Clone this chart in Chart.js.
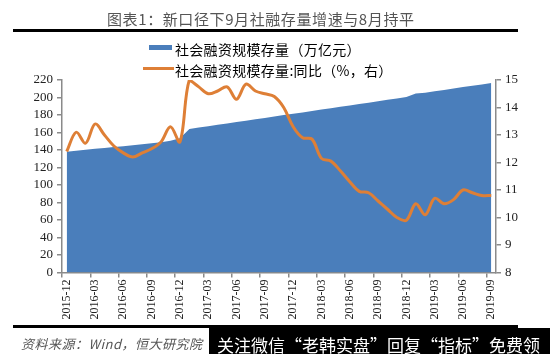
<!DOCTYPE html>
<html><head><meta charset="utf-8">
<script src="https://cdn.jsdelivr.net/npm/chart.js@4/dist/chart.umd.min.js"></script>
<style>
html,body{margin:0;padding:0;background:#fff;}
#wrap{position:relative;width:550px;height:354px;overflow:hidden;background:#fff;}
canvas{position:absolute;left:0;top:0;}
.t{position:absolute;white-space:nowrap;line-height:1;}
.rule{position:absolute;background:#000;}
</style></head><body>
<div id="wrap">
<canvas id="c" width="550" height="354"></canvas>
<div class="t" id="title" style="left:107px;top:8px;font:15px 'Noto Sans CJK SC';letter-spacing:0.6px;color:#555;">图表1：新口径下9月社融存量增速与8月持平</div>
<div class="rule" style="left:13px;top:29px;width:505px;height:3px;"></div>
<div id="legend"></div>
<div class="rule" style="left:13px;top:325px;width:505px;height:3px;"></div>
<div class="t" style="left:21px;top:334px;font:italic 13px 'Noto Sans CJK SC';letter-spacing:0.5px;color:#555;">资料来源：Wind，恒大研究院</div>
<div style="position:absolute;left:209px;top:328px;width:341px;height:26px;background:#000;"></div>
<div class="t" style="left:217px;top:332px;font:17px 'Noto Sans CJK SC';color:#fff;">关注微信“老韩实盘”回复“指标”免费领</div>
</div>
<script>
const categories = ["2015-12","2016-01","2016-02","2016-03","2016-04","2016-05","2016-06","2016-07","2016-08","2016-09","2016-10","2016-11","2016-12",
"2017-01","2017-02","2017-03","2017-04","2017-05","2017-06","2017-07","2017-08","2017-09","2017-10","2017-11","2017-12",
"2018-01","2018-02","2018-03","2018-04","2018-05","2018-06","2018-07","2018-08","2018-09","2018-10","2018-11","2018-12",
"2019-01","2019-02","2019-03","2019-04","2019-05","2019-06","2019-07","2019-08","2019-09"];
const stockValues = [138.0,139.2,140.2,141.3,142.4,143.4,144.4,145.5,146.6,147.6,148.8,150.5,153.5,
164.0,165.6,167.2,168.8,170.3,171.9,173.5,175.1,176.7,178.3,179.9,181.5,
183.0,184.6,186.2,187.8,189.4,191.0,192.6,194.1,195.7,197.3,198.9,200.5,
204.5,205.5,207.2,208.6,210.2,212.0,213.5,215.0,216.5];
const yoyValues = [12.4,13.1,12.7,13.4,13.0,12.6,12.35,12.2,12.35,12.5,12.75,13.3,12.75,
15.0,14.75,14.5,14.6,14.75,14.3,14.85,14.6,14.5,14.4,14.0,13.3,
12.9,12.85,12.15,12.05,11.7,11.3,10.95,10.9,10.6,10.3,10.0,9.9,
10.5,10.1,10.7,10.5,10.65,11.0,10.9,10.8,10.8];
const leftTicks = [0,20,40,60,80,100,120,140,160,180,200,220];
const rightTicks = [8,9,10,11,12,13,14,15];
const seriesNames = ["社会融资规模存量（万亿元）","社会融资规模存量:同比（%，右）"];

const BLUE = '#4A7EBB', ORANGE = '#DE7F36', AXIS = '#8a8a8a';

// HTML legend
const lg = document.getElementById('legend');
const legendItems = [
  {name: seriesNames[0], color: BLUE, cy: 47, h: 5, x: 149, w: 23},
  {name: seriesNames[1], color: ORANGE, cy: 68, h: 3, x: 143, w: 31}
];
legendItems.forEach(it => {
  const sw = document.createElement('div');
  sw.style.cssText = `position:absolute;left:${it.x}px;top:${it.cy - it.h/2}px;width:${it.w}px;height:${it.h}px;background:${it.color};`;
  lg.appendChild(sw);
  const tx = document.createElement('div');
  tx.className = 't';
  tx.style.cssText = `left:175px;top:${it.cy-8}px;font:14px 'Noto Sans CJK SC';letter-spacing:0.3px;color:#000;`;
  tx.textContent = it.name;
  lg.appendChild(tx);
});

const serif = "'Liberation Serif','Times New Roman',serif";
new Chart(document.getElementById('c'), {
  type: 'line',
  data: {
    labels: categories,
    datasets: [
      {label: seriesNames[1], data: yoyValues, yAxisID: 'y1', borderColor: ORANGE, borderWidth: 3,
       pointRadius: 0, tension: 0.35, fill: false, order: 0},
      {label: seriesNames[0], data: stockValues, yAxisID: 'y', borderWidth: 0, borderColor: BLUE,
       backgroundColor: BLUE, pointRadius: 0, tension: 0, fill: 'origin', order: 1}
    ]
  },
  options: {
    responsive: false, animation: false,
    layout: {padding: {top: 80, left: 0, right: 0, bottom: 0}},
    plugins: {legend: {display: false}, tooltip: {enabled: false}, title: {display: false}},
    scales: {
      x: {
        offset: true,
        grid: {offset: true, drawOnChartArea: false, drawTicks: true, tickLength: 5,
               color: c => (c.index % 3 === 0) ? AXIS : 'rgba(0,0,0,0)', lineWidth: 1.5},
        border: {display: true, color: AXIS, width: 1.5},
        ticks: {autoSkip: false, maxRotation: 90, minRotation: 90, padding: 2, color: '#222',
                font: {family: serif, size: 12},
                callback: (v, i) => (i % 3 === 0) ? categories[i] : ''},
        afterFit: s => { s.height = 81.5; }
      },
      y: {
        position: 'left', min: 0, max: 220,
        afterBuildTicks: s => { s.ticks = leftTicks.map(v => ({value: v})); },
        grid: {drawOnChartArea: false, drawTicks: true, tickLength: 5, color: AXIS, lineWidth: 1.5},
        border: {display: true, color: AXIS, width: 1.5},
        ticks: {autoSkip: false, color: '#222', padding: 4, font: {family: serif, size: 13}},
        afterFit: s => { s.width = 62; }
      },
      y1: {
        position: 'right', min: 8, max: 15,
        afterBuildTicks: s => { s.ticks = rightTicks.map(v => ({value: v})); },
        grid: {drawOnChartArea: false, drawTicks: true, tickLength: 5, color: AXIS, lineWidth: 1.5},
        border: {display: true, color: AXIS, width: 1.5},
        ticks: {autoSkip: false, color: '#222', padding: 4, font: {family: serif, size: 13}},
        afterFit: s => { s.width = 54; }
      }
    }
  }
});
</script>
</body></html>
